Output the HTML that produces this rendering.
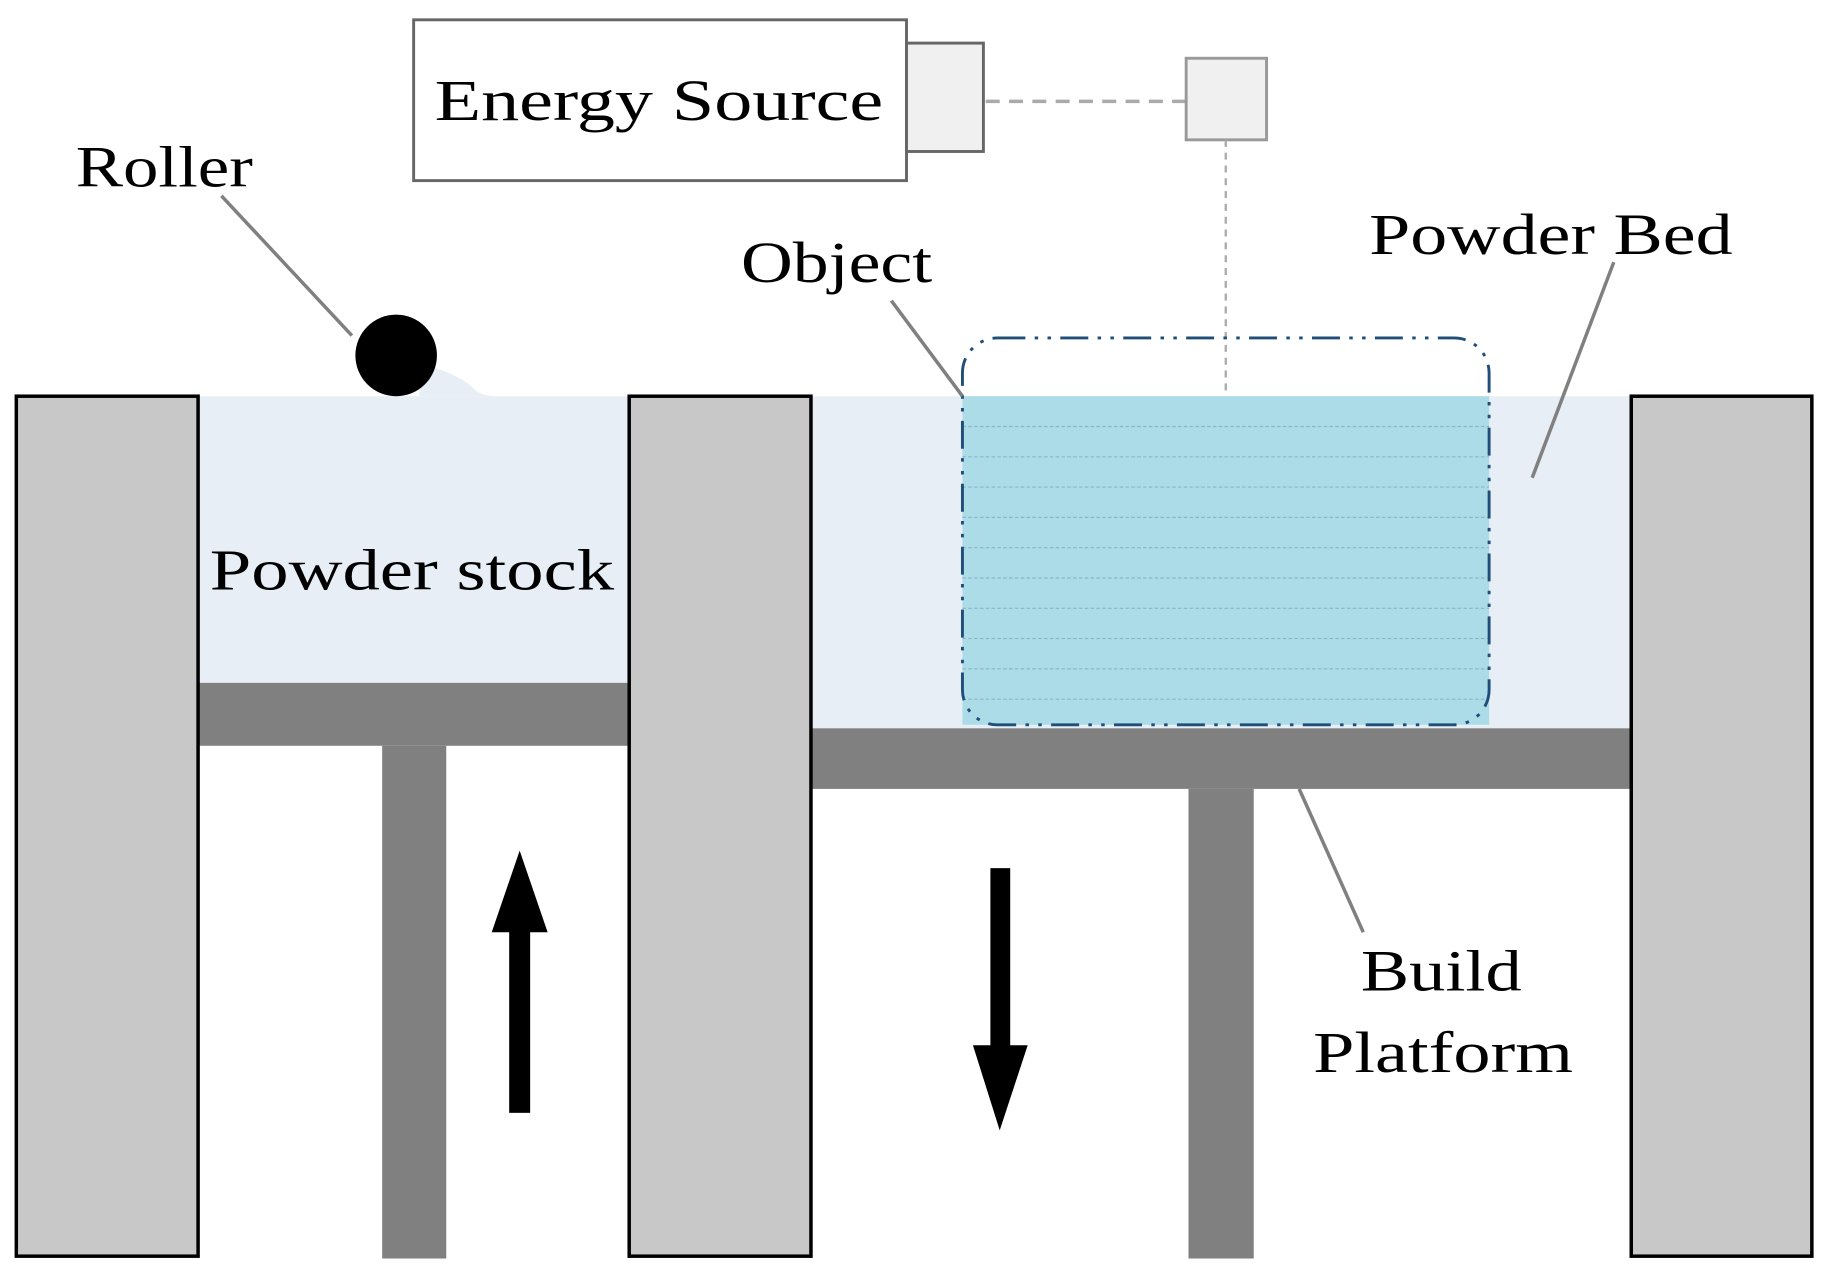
<!DOCTYPE html>
<html><head><meta charset="utf-8"><style>html,body{margin:0;padding:0;background:#fff}svg{display:block}</style></head>
<body>
<svg width="1827" height="1269" viewBox="0 0 1568 1089" preserveAspectRatio="none" xmlns="http://www.w3.org/2000/svg" font-family="'Liberation Serif', serif" font-size="50" fill="#000">
<rect x="355" y="17" width="423" height="138" fill="#fff" stroke="#666" stroke-width="2.5"/>
<rect x="778" y="37" width="66" height="93" fill="#f0f0f0" stroke="#666" stroke-width="2.5"/>
<line x1="846" y1="87" x2="1018" y2="87" stroke="#aaa" stroke-width="3" stroke-dasharray="12,8"/>
<rect x="1018" y="50" width="69" height="70" fill="#f0f0f0" stroke="#999" stroke-width="2.5"/>
<line x1="1052" y1="120" x2="1052" y2="340" stroke="#aaa" stroke-width="2" stroke-dasharray="6,5"/>
<text x="373" y="103" textLength="385" lengthAdjust="spacingAndGlyphs">Energy  Source</text>
<rect x="170" y="340" width="370" height="246" fill="#e8eef5"/>
<path d="M360 312 Q392 320 405 332 Q412 340 425 340 L360 340Z" fill="#e8eef5"/>
<rect x="696" y="340" width="704" height="285" fill="#e8eef5"/>
<rect x="826" y="340" width="452" height="282" fill="#acdce7"/>
<g stroke="#8ab6c8" stroke-width="1" stroke-dasharray="3,2">
<line x1="826" y1="366" x2="1278" y2="366"/><line x1="826" y1="392" x2="1278" y2="392"/><line x1="826" y1="418" x2="1278" y2="418"/><line x1="826" y1="444" x2="1278" y2="444"/><line x1="826" y1="470" x2="1278" y2="470"/><line x1="826" y1="496" x2="1278" y2="496"/><line x1="826" y1="522" x2="1278" y2="522"/><line x1="826" y1="548" x2="1278" y2="548"/><line x1="826" y1="574" x2="1278" y2="574"/><line x1="826" y1="600" x2="1278" y2="600"/>
</g>
<rect x="826" y="290" width="452" height="332" rx="30" fill="none" stroke="#1f4e79" stroke-width="2.5" stroke-dasharray="24,8,3,8,3,8"/>
<rect x="170" y="586" width="370" height="54" fill="#808080"/>
<rect x="328" y="640" width="55" height="440" fill="#808080"/>
<rect x="696" y="625" width="704" height="52" fill="#808080"/>
<rect x="1020" y="677" width="56" height="403" fill="#808080"/>
<rect x="14" y="340" width="156" height="738" fill="#c8c8c8" stroke="#000" stroke-width="3"/>
<rect x="540" y="340" width="156" height="738" fill="#c8c8c8" stroke="#000" stroke-width="3"/>
<rect x="1400" y="340" width="155" height="738" fill="#c8c8c8" stroke="#000" stroke-width="3"/>
<circle cx="340" cy="305" r="35" fill="#000"/>
<rect x="437" y="795" width="18" height="160" fill="#000"/>
<polygon points="446,730 470,800 422,800" fill="#000"/>
<rect x="850" y="745" width="17" height="155" fill="#000"/>
<polygon points="835,897 882,897 858,970" fill="#000"/>
<g stroke="#808080" stroke-width="3">
<line x1="190" y1="168" x2="302" y2="288"/>
<line x1="765" y1="258" x2="826" y2="340"/>
<line x1="1385" y1="225" x2="1315" y2="410"/>
<line x1="1115" y1="677" x2="1170" y2="800"/>
</g>
<text x="65" y="160" textLength="152" lengthAdjust="spacingAndGlyphs">Roller</text>
<text x="636" y="242" textLength="164" lengthAdjust="spacingAndGlyphs">Object</text>
<text x="1175" y="218" textLength="312" lengthAdjust="spacingAndGlyphs">Powder Bed</text>
<text x="180" y="506" textLength="347" lengthAdjust="spacingAndGlyphs">Powder stock</text>
<text x="1168" y="850" textLength="138" lengthAdjust="spacingAndGlyphs">Build</text>
<text x="1127" y="920" textLength="223" lengthAdjust="spacingAndGlyphs">Platform</text>
</svg>
</body></html>
